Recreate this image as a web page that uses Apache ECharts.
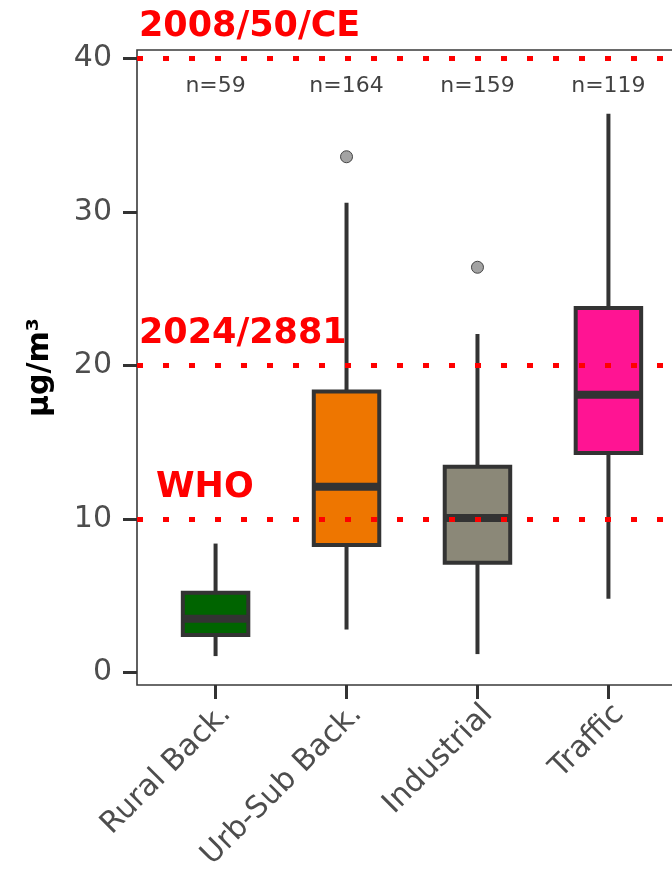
<!DOCTYPE html>
<html><head><meta charset="utf-8">
<script src="https://cdn.jsdelivr.net/npm/echarts@6/dist/echarts.min.js"></script>
<style>html,body{margin:0;padding:0;background:#fff}#c{width:672px;height:871px}</style>
</head><body><div id="c"></div>
<script>
const categories = ['Rural Back.', 'Urb-Sub Back.', 'Industrial', 'Traffic'];
const whiskerLow = [1.07, 2.8, 1.2, 4.8];
const q1 = [2.45, 8.3, 7.15, 14.3];
const median = [3.5, 12.1, 10.06, 18.1];
const q3 = [5.2, 18.3, 13.4, 23.75];
const whiskerHigh = [8.4, 30.6, 22.05, 36.4];
const outliers = [[1, 33.6], [2, 26.4]];
const nCounts = [59, 164, 159, 119];
const fills = ['#006400', '#EE7600', '#8B8878', '#FF1493'];
const thresholds = [40, 20, 10];
const thresholdLabels = ['2008/50/CE', '2024/2881', 'WHO'];
const yTicks = [0, 10, 20, 30, 40];
const xTicks = [0, 1, 2, 3];
const nLabelY = 38.2;

const boxData = categories.map((c, i) => [i, whiskerLow[i], q1[i], median[i], q3[i], whiskerHigh[i]]);
const FONT = 'DejaVu Sans';

function renderBox(params, api) {
  const i = api.value(0);
  const bw = api.size([0.5, 0])[0];
  const pLo = api.coord([i, api.value(1)]);
  const pQ1 = api.coord([i, api.value(2)]);
  const pMed = api.coord([i, api.value(3)]);
  const pQ3 = api.coord([i, api.value(4)]);
  const pHi = api.coord([i, api.value(5)]);
  const x = pLo[0];
  const stroke = '#333333';
  return {
    type: 'group', children: [
      { type: 'line', shape: { x1: x, y1: pHi[1], x2: x, y2: pQ3[1] }, style: { stroke, lineWidth: 4 } },
      { type: 'line', shape: { x1: x, y1: pQ1[1], x2: x, y2: pLo[1] }, style: { stroke, lineWidth: 4 } },
      { type: 'rect', shape: { x: x - bw / 2, y: pQ3[1], width: bw, height: pQ1[1] - pQ3[1] },
        style: { fill: fills[params.dataIndex], stroke, lineWidth: 4 } },
      { type: 'line', shape: { x1: x - bw / 2, y1: pMed[1], x2: x + bw / 2, y2: pMed[1] }, style: { stroke, lineWidth: 8 } }
    ]
  };
}

const chart = echarts.init(document.getElementById('c'), null, { renderer: 'canvas' });
chart.setOption({
  animation: false,
  backgroundColor: '#ffffff',
  grid: { left: 137, top: 50, width: 550, height: 635, outerBoundsMode: 'none', containLabel: false,
    show: true, borderColor: '#3a3a3a', borderWidth: 1.6, backgroundColor: 'transparent' },
  xAxis: {
    type: 'value', min: -0.6, max: 3.6,
    axisLine: { show: false, onZero: false },
    splitLine: { show: false },
    axisTick: { show: true, customValues: xTicks, length: 14, lineStyle: { color: '#333', width: 3 } },
    axisLabel: {
      customValues: xTicks, formatter: v => categories[v], rotate: 45, margin: 14,
      align: 'right', verticalAlign: 'top',
      fontSize: 30, color: '#4d4d4d', fontFamily: FONT
    }
  },
  yAxis: {
    type: 'value', min: -0.814, max: 40.554,
    name: 'µg/m³', nameLocation: 'middle', nameRotate: 90, nameGap: 82,
    nameTextStyle: { fontSize: 30, fontWeight: 'bold', color: '#000', fontFamily: FONT },
    axisLine: { show: false, onZero: false },
    splitLine: { show: false },
    axisTick: { show: true, customValues: yTicks, length: 14, lineStyle: { color: '#333', width: 3 } },
    axisLabel: { customValues: yTicks, margin: 25, fontSize: 30, color: '#4d4d4d', fontFamily: FONT }
  },
  series: [
    {
      type: 'custom', z: 2, renderItem: renderBox, data: boxData,
      encode: { x: 0, y: [1, 2, 3, 4, 5] }
    },
    {
      type: 'scatter', z: 3, data: outliers, symbolSize: 12,
      itemStyle: { color: '#a3a3a3', borderColor: '#444', borderWidth: 1, opacity: 1 }
    },
    {
      type: 'scatter', z: 6, symbolSize: 0, silent: true,
      data: nCounts.map((n, i) => [i, nLabelY, n]),
      label: { show: true, position: 'inside', formatter: p => 'n=' + p.value[2], fontSize: 22, color: '#111', fontFamily: FONT },
      markLine: {
        silent: true, symbol: ['none', 'none'],
        lineStyle: { color: '#ff0000', width: 5, type: [6, 20], cap: 'butt', opacity: 1 },
        label: { show: true, position: 'insideStartTop', distance: [2, 14], color: '#ff0000', fontWeight: 'bold', fontSize: 35, fontFamily: FONT },
        data: thresholds.map((v, k) => ({ yAxis: v, label: { formatter: thresholdLabels[k], padding: k === 2 ? [0, 0, 0, 17] : 0 } }))
      }
    }
  ]
});
</script></body></html>
